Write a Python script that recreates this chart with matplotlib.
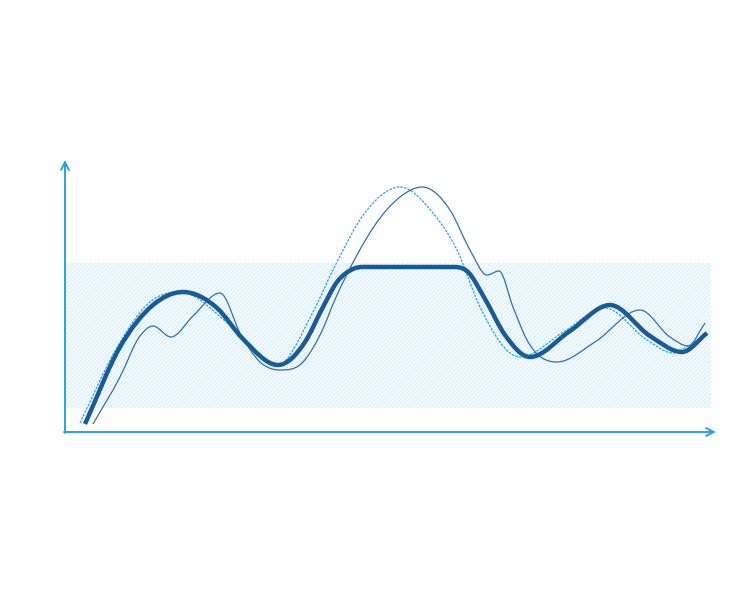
import numpy as np
import matplotlib
matplotlib.use("Agg")
import matplotlib.pyplot as plt
from matplotlib.path import Path
from matplotlib.patches import PathPatch, Rectangle

# signal traces, time on x, amplitude on y (key points: extremes and turns)
clipped_x = [20, 55, 88, 118, 152, 178, 213, 240, 258, 272, 288, 305, 385, 403, 420, 440, 465, 505,
             545, 585, 617, 642]
clipped_y = [8, 85, 127, 140, 124, 93, 67, 90, 125, 150, 163, 165, 165, 160, 133, 97, 75, 101,
             127, 96, 80, 99]

ideal_x = [15, 50, 85, 115, 165, 211, 248, 268, 302, 335, 368, 392, 415, 455, 500, 540, 582, 608, 625]
ideal_y = [9, 81, 130, 140, 107, 66, 120, 162, 222, 245, 219, 182, 125, 75, 101, 124, 92, 79, 87]

lagged_x = [28, 55, 75, 88, 106, 128, 155, 176, 195, 215, 238, 255, 272, 292, 310, 335, 357, 385,
            405, 422, 434, 448, 462, 492, 530, 575, 605, 623, 640]
lagged_y = [8, 55, 96, 106, 95, 116, 139, 97, 70, 62, 70, 97, 137, 177, 207, 235, 245, 222,
            182, 157, 161, 125, 92, 70, 90, 122, 95, 86, 109]

band_lo, band_hi = 24, 169
band_x0, band_x1 = 0, 646

dark = "#175b97"
light = "#2ba2dc"
thin_col = "#336fa6"


def smooth_path(xs, ys):
    # cubic hermite in x, flat tangent at local extremes, drawn as bezier segments
    x = np.asarray(xs, float)
    y = np.asarray(ys, float)
    h = np.diff(x)
    d = np.diff(y) / h
    m = np.empty_like(y)
    m[0], m[-1] = d[0], d[-1]
    for i in range(1, len(x) - 1):
        if d[i - 1] * d[i] <= 0:
            m[i] = 0.0
        else:
            m[i] = (d[i - 1] * h[i] + d[i] * h[i - 1]) / (h[i - 1] + h[i])
    verts = [(x[0], y[0])]
    codes = [Path.MOVETO]
    for i in range(len(h)):
        verts.append((x[i] + h[i] / 3, y[i] + m[i] * h[i] / 3))
        verts.append((x[i + 1] - h[i] / 3, y[i + 1] - m[i + 1] * h[i] / 3))
        verts.append((x[i + 1], y[i + 1]))
        codes += [Path.CURVE4] * 3
    return Path(verts, codes)


fig = plt.figure(figsize=(7.5, 5.95), dpi=100)
ax = fig.add_axes([0, 0, 1, 1])
ax.set_xlim(-65, 685)
ax.set_ylim(-163, 432)
ax.axis("off")

plt.rcParams["hatch.linewidth"] = 0.8
ax.add_patch(Rectangle((band_x0, band_lo), band_x1 - band_x0, band_hi - band_lo,
                       facecolor="#f7fcfe", edgecolor="none", zorder=1))
ax.add_patch(Rectangle((band_x0, band_lo), band_x1 - band_x0, band_hi - band_lo,
                       facecolor="none", edgecolor="#d8eef9", lw=0, hatch="////////", zorder=1))

ax.add_patch(PathPatch(smooth_path(ideal_x, ideal_y), fill=False, edgecolor=light,
                       lw=0.9, linestyle=(0, (2, 1)), zorder=3))
ax.add_patch(PathPatch(smooth_path(lagged_x, lagged_y), fill=False, edgecolor=thin_col,
                       lw=0.9, zorder=3))
ax.add_patch(PathPatch(smooth_path(clipped_x, clipped_y), fill=False, edgecolor=dark,
                       lw=3.2, capstyle="butt", zorder=4))

arrow = dict(arrowstyle="->", color=light, lw=1.4, mutation_scale=14, shrinkA=0, shrinkB=0)
ax.annotate("", xy=(651, 0), xytext=(-1, 0), arrowprops=arrow)
ax.annotate("", xy=(0, 272), xytext=(0, -1), arrowprops=arrow)

fig.savefig("out.png", dpi=100)
